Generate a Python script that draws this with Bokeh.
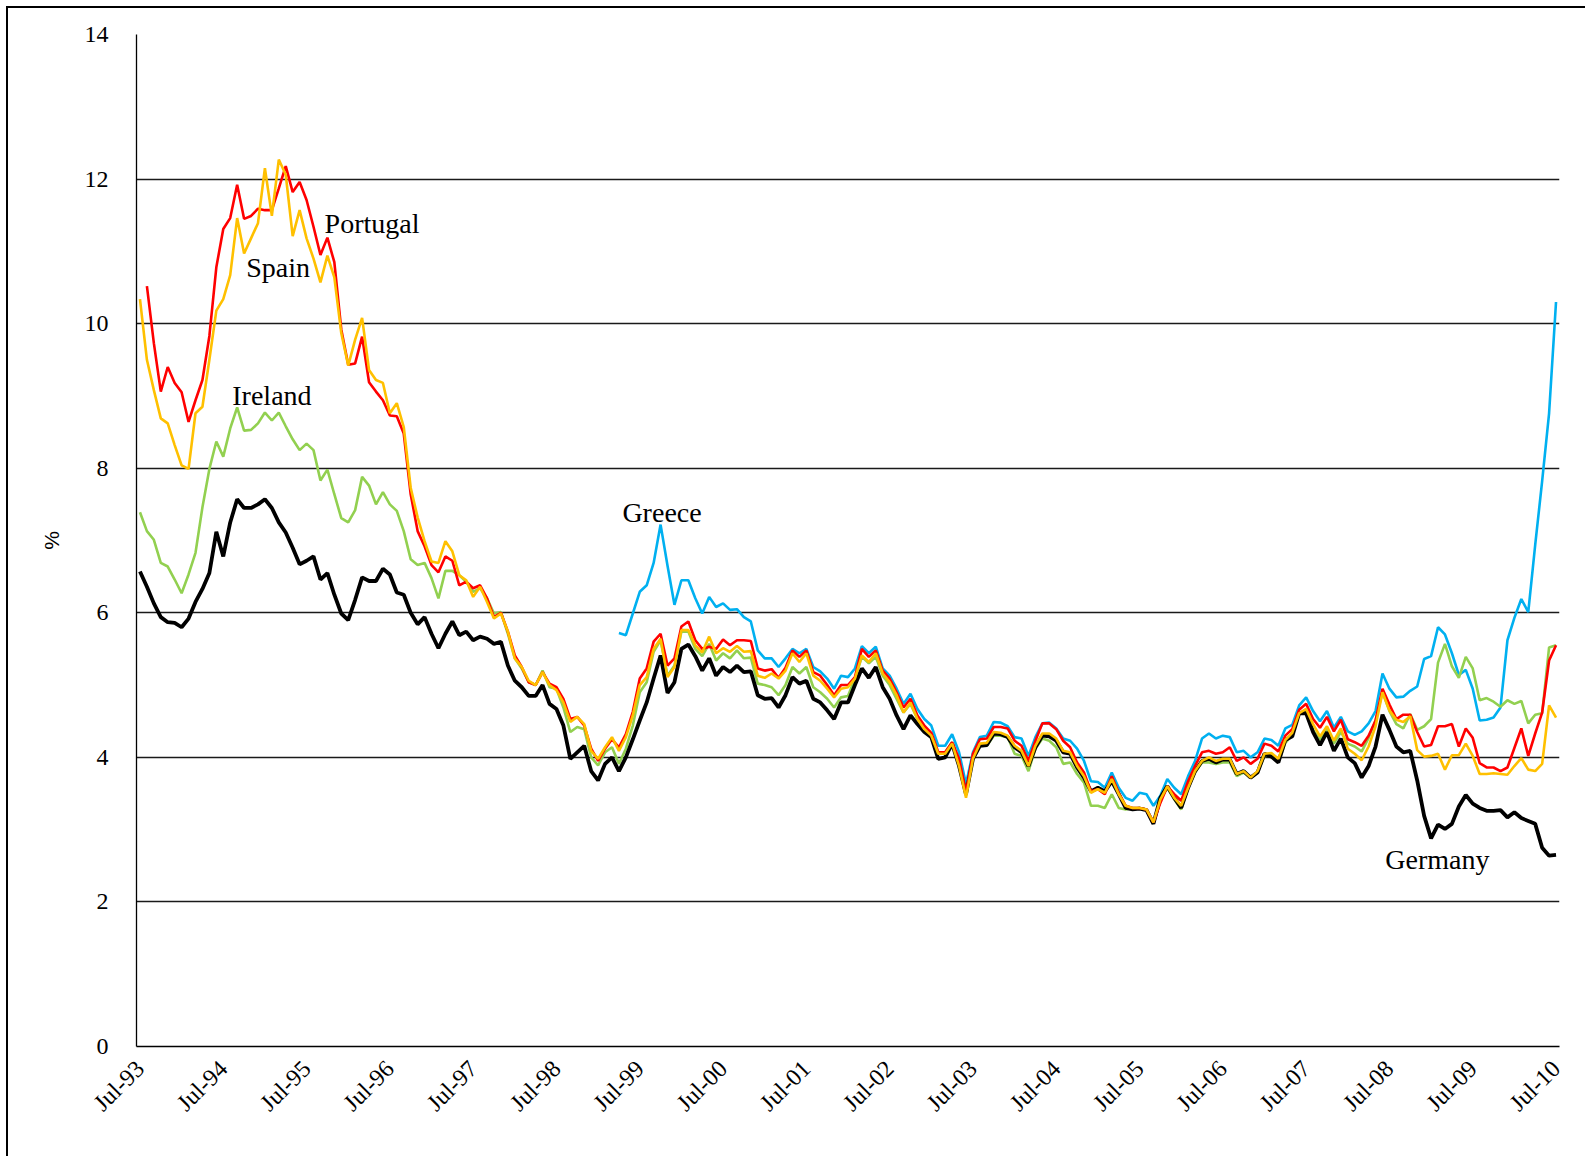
import math
import numpy as np
from bokeh.plotting import figure
from bokeh.models import Range1d, FixedTicker, ColumnDataSource
from bokeh.core.properties import value
from bokeh.embed import file_html
from bokeh.resources import INLINE

N = None
tick_labels = ["Jul-93", "Jul-94", "Jul-95", "Jul-96", "Jul-97", "Jul-98", "Jul-99", "Jul-00", "Jul-01",
               "Jul-02", "Jul-03", "Jul-04", "Jul-05", "Jul-06", "Jul-07", "Jul-08", "Jul-09", "Jul-10"]

germany = [6.57, 6.36, 6.13, 5.94, 5.87, 5.86, 5.80, 5.92, 6.15, 6.33, 6.55, 7.12, 6.78, 7.25, 7.57, 7.45, 7.45, 7.50, 7.57, 7.45,
           7.25, 7.11, 6.90, 6.67, 6.72, 6.78, 6.46, 6.55, 6.25, 5.99, 5.90, 6.18, 6.49, 6.44, 6.44, 6.61, 6.53, 6.28, 6.25, 6.00,
           5.84, 5.94, 5.71, 5.51, 5.71, 5.88, 5.69, 5.74, 5.62, 5.67, 5.64, 5.57, 5.60, 5.27, 5.06, 4.97, 4.85, 4.85, 5.00, 4.74,
           4.67, 4.44, 3.98, 4.07, 4.16, 3.81, 3.68, 3.91, 4.00, 3.81, 4.00, 4.25, 4.51, 4.76, 5.09, 5.41, 4.89, 5.04, 5.50, 5.56,
           5.40, 5.20, 5.37, 5.13, 5.25, 5.18, 5.27, 5.18, 5.19, 4.86, 4.81, 4.82, 4.69, 4.86, 5.11, 5.02, 5.06, 4.81, 4.76, 4.65,
           4.53, 4.76, 4.76, 5.00, 5.23, 5.10, 5.25, 4.97, 4.81, 4.58, 4.39, 4.58, 4.46, 4.35, 4.28, 3.98, 4.00, 4.19, 3.88, 3.49,
           3.98, 4.16, 4.17, 4.33, 4.32, 4.28, 4.14, 4.07, 3.88, 4.14, 4.30, 4.29, 4.23, 4.07, 4.05, 3.86, 3.72, 3.53, 3.58, 3.53,
           3.67, 3.49, 3.30, 3.28, 3.29, 3.27, 3.08, 3.44, 3.60, 3.44, 3.30, 3.58, 3.81, 3.95, 3.98, 3.93, 3.97, 3.97, 3.77, 3.81,
           3.72, 3.79, 4.05, 4.01, 3.93, 4.24, 4.29, 4.61, 4.61, 4.35, 4.17, 4.35, 4.09, 4.26, 4.00, 3.92, 3.72, 3.88, 4.15, 4.59,
           4.38, 4.15, 4.07, 4.09, 3.68, 3.19, 2.88, 3.07, 3.01, 3.08, 3.32, 3.48, 3.36, 3.30, 3.26, 3.26, 3.27, 3.17, 3.24, 3.16,
           3.12, 3.08, 2.75, 2.64, 2.65]

portugal = [N, 10.52, 9.73, 9.06, 9.40, 9.18, 9.05, 8.64, 8.94, 9.22, 9.83, 10.78, 11.31, 11.46, 11.92, 11.45, 11.49, 11.59, 11.57, 11.57,
            11.87, 12.18, 11.82, 11.96, 11.71, 11.34, 10.95, 11.19, 10.85, 9.92, 9.43, 9.45, 9.82, 9.19, 9.06, 8.94, 8.73, 8.72, 8.48, 7.64,
            7.13, 6.92, 6.66, 6.56, 6.78, 6.72, 6.38, 6.43, 6.34, 6.38, 6.20, 5.94, 6.00, 5.74, 5.41, 5.25, 5.04, 5.00, 5.18, 5.02,
            4.97, 4.81, 4.53, 4.56, 4.44, 4.12, 3.95, 4.12, 4.25, 4.14, 4.32, 4.63, 5.09, 5.23, 5.60, 5.71, 5.27, 5.37, 5.81, 5.88,
            5.62, 5.50, 5.53, 5.50, 5.63, 5.55, 5.62, 5.62, 5.61, 5.23, 5.20, 5.22, 5.10, 5.24, 5.48, 5.39, 5.48, 5.18, 5.13, 5.00,
            4.86, 5.00, 5.00, 5.11, 5.50, 5.39, 5.48, 5.20, 5.09, 4.90, 4.69, 4.81, 4.58, 4.44, 4.34, 4.07, 4.07, 4.21, 3.98, 3.52,
            4.05, 4.25, 4.26, 4.42, 4.42, 4.40, 4.23, 4.16, 3.95, 4.23, 4.47, 4.47, 4.39, 4.23, 4.14, 3.93, 3.79, 3.53, 3.56, 3.49,
            3.74, 3.51, 3.33, 3.30, 3.30, 3.28, 3.10, 3.37, 3.60, 3.49, 3.40, 3.67, 3.88, 4.07, 4.09, 4.05, 4.07, 4.14, 3.95, 4.00,
            3.91, 3.98, 4.19, 4.16, 4.08, 4.30, 4.39, 4.66, 4.74, 4.53, 4.41, 4.56, 4.36, 4.52, 4.25, 4.21, 4.16, 4.30, 4.51, 4.95,
            4.73, 4.53, 4.59, 4.59, 4.35, 4.15, 4.17, 4.43, 4.43, 4.46, 4.15, 4.40, 4.27, 3.92, 3.86, 3.86, 3.81, 3.86, 4.13, 4.40,
            4.02, 4.33, 4.62, 5.34, 5.55]

spain = [10.34, 9.50, 9.08, 8.69, 8.62, 8.32, 8.04, 7.99, 8.76, 8.85, 9.50, 10.18, 10.34, 10.67, 11.46, 10.97, 11.18, 11.39, 12.15, 11.49,
         12.27, 12.06, 11.21, 11.57, 11.18, 10.90, 10.57, 10.94, 10.64, 9.87, 9.42, 9.78, 10.08, 9.36, 9.22, 9.18, 8.76, 8.90, 8.57, 7.73,
         7.32, 6.99, 6.71, 6.69, 6.99, 6.85, 6.52, 6.45, 6.22, 6.36, 6.15, 5.92, 5.99, 5.74, 5.37, 5.25, 5.06, 5.00, 5.18, 5.00,
         4.93, 4.76, 4.49, 4.56, 4.46, 4.09, 3.98, 4.14, 4.28, 4.09, 4.28, 4.58, 5.00, 5.11, 5.50, 5.64, 5.11, 5.25, 5.76, 5.76,
         5.55, 5.45, 5.67, 5.44, 5.51, 5.46, 5.54, 5.46, 5.47, 5.13, 5.10, 5.16, 5.09, 5.20, 5.44, 5.32, 5.44, 5.13, 5.06, 4.95,
         4.83, 4.95, 4.97, 5.09, 5.41, 5.32, 5.44, 5.16, 5.04, 4.86, 4.62, 4.76, 4.53, 4.39, 4.30, 4.05, 4.05, 4.19, 3.88, 3.44,
         3.98, 4.19, 4.20, 4.35, 4.34, 4.30, 4.16, 4.09, 3.88, 4.16, 4.33, 4.33, 4.26, 4.09, 4.07, 3.88, 3.74, 3.51, 3.56, 3.51,
         3.70, 3.49, 3.33, 3.30, 3.30, 3.28, 3.10, 3.42, 3.60, 3.44, 3.33, 3.58, 3.81, 3.95, 4.00, 3.95, 3.98, 3.98, 3.77, 3.81,
         3.72, 3.81, 4.05, 4.06, 3.98, 4.24, 4.34, 4.61, 4.67, 4.46, 4.29, 4.43, 4.23, 4.40, 4.12, 4.05, 3.96, 4.15, 4.43, 4.90,
         4.65, 4.52, 4.49, 4.57, 4.10, 4.01, 4.02, 4.05, 3.83, 4.03, 4.03, 4.19, 4.02, 3.77, 3.77, 3.78, 3.77, 3.76, 3.88, 3.99,
         3.83, 3.81, 3.91, 4.72, 4.55]

ireland = [7.39, 7.13, 7.01, 6.69, 6.64, 6.46, 6.27, 6.53, 6.83, 7.46, 7.99, 8.37, 8.16, 8.55, 8.84, 8.52, 8.53, 8.62, 8.77, 8.66,
           8.77, 8.58, 8.40, 8.25, 8.34, 8.25, 7.83, 7.98, 7.64, 7.31, 7.25, 7.42, 7.88, 7.76, 7.50, 7.67, 7.50, 7.41, 7.13, 6.74,
           6.66, 6.69, 6.48, 6.20, 6.58, 6.58, 6.52, 6.43, 6.29, 6.34, 6.20, 5.99, 6.01, 5.71, 5.37, 5.23, 5.04, 5.00, 5.20, 4.97,
           4.95, 4.69, 4.35, 4.42, 4.39, 4.00, 3.89, 4.07, 4.14, 3.91, 4.12, 4.44, 4.90, 5.04, 5.46, 5.62, 5.13, 5.27, 5.74, 5.74,
           5.50, 5.40, 5.57, 5.34, 5.44, 5.37, 5.48, 5.37, 5.38, 5.02, 5.00, 4.97, 4.86, 5.00, 5.25, 5.16, 5.25, 4.97, 4.90, 4.81,
           4.69, 4.83, 4.85, 5.09, 5.39, 5.30, 5.39, 5.13, 5.00, 4.81, 4.62, 4.74, 4.53, 4.39, 4.30, 4.05, 4.07, 4.21, 3.91, 3.47,
           4.02, 4.16, 4.16, 4.30, 4.30, 4.28, 4.05, 4.02, 3.81, 4.12, 4.26, 4.23, 4.14, 3.91, 3.93, 3.77, 3.65, 3.33, 3.33, 3.30,
           3.49, 3.30, 3.28, 3.30, 3.30, 3.28, 3.09, 3.40, 3.58, 3.42, 3.28, 3.58, 3.79, 3.93, 3.93, 3.91, 3.93, 3.93, 3.74, 3.79,
           3.72, 3.79, 4.02, 4.03, 3.93, 4.20, 4.31, 4.61, 4.66, 4.38, 4.24, 4.40, 4.19, 4.35, 4.19, 4.15, 4.08, 4.27, 4.51, 4.90,
           4.64, 4.46, 4.40, 4.60, 4.38, 4.43, 4.53, 5.31, 5.57, 5.26, 5.10, 5.39, 5.23, 4.79, 4.82, 4.77, 4.70, 4.79, 4.74, 4.78,
           4.47, 4.59, 4.61, 5.52, 5.55]

greece = [N] * 69 + [
    5.72, 5.69, 5.99, 6.29, 6.38, 6.69, 7.22, 6.65, 6.11, 6.45, 6.45,
    6.20, 5.99, 6.22, 6.08, 6.13, 6.04, 6.05, 5.94, 5.88, 5.48, 5.37, 5.37, 5.25, 5.37, 5.50, 5.44, 5.50, 5.25, 5.19, 5.09,
    4.95, 5.13, 5.11, 5.23, 5.54, 5.44, 5.53, 5.23, 5.13, 4.95, 4.74, 4.88, 4.67, 4.53, 4.44, 4.16, 4.16, 4.32, 4.07, 3.63,
    4.07, 4.28, 4.30, 4.49, 4.48, 4.43, 4.28, 4.26, 4.02, 4.28, 4.47, 4.48, 4.40, 4.26, 4.23, 4.12, 3.95, 3.67, 3.66, 3.58,
    3.79, 3.58, 3.44, 3.40, 3.51, 3.49, 3.33, 3.47, 3.70, 3.58, 3.49, 3.74, 3.95, 4.26, 4.33, 4.26, 4.30, 4.28, 4.07, 4.09,
    4.00, 4.07, 4.26, 4.24, 4.16, 4.40, 4.45, 4.72, 4.83, 4.64, 4.50, 4.64, 4.41, 4.56, 4.36, 4.31, 4.36, 4.47, 4.64, 5.16,
    4.95, 4.83, 4.84, 4.92, 4.98, 5.36, 5.40, 5.80, 5.70, 5.44, 5.14, 5.21, 4.95, 4.51, 4.52, 4.55, 4.69, 5.62, 5.93, 6.19,
    6.01, 6.94, 7.82, 8.76, 10.30]

label_names = ["Portugal", "Spain", "Ireland", "Greece", "Germany"]
label_x = [26.6, 15.3, 13.3, 69.5, 179.4]
label_y = [11.38, 10.78, 9.01, 7.39, 2.59]

months = np.arange(len(germany))

def arr(v):
    return np.array(v, dtype=float)

p = figure(width=1579, height=1150, output_backend="svg", toolbar_location=None,
           x_range=Range1d(-0.5, 204.5), y_range=Range1d(0, 14),
           min_border_left=128, min_border_right=28, min_border_top=26, min_border_bottom=112,
           background_fill_color="white", border_fill_color="white")
p.margin = (8, 0, 0, 8)
p.outline_line_color = None
p.styles = {"box-shadow": "-2px -2px 0 0 #000000"}

serif = "Liberation Serif"

p.xaxis.ticker = FixedTicker(ticks=[12 * k for k in range(len(tick_labels))])
p.xaxis.major_label_overrides = {12 * k: t for k, t in enumerate(tick_labels)}
p.xaxis.major_label_orientation = math.pi / 4
p.xaxis.major_label_text_font = serif
p.xaxis.major_label_text_font_size = "24px"
p.xaxis.major_label_text_color = "black"
p.xaxis.major_label_standoff = 12
p.xaxis.major_tick_line_color = None
p.xaxis.minor_tick_line_color = None
p.xaxis.axis_line_color = "black"
p.xaxis.axis_line_width = 1.3

p.yaxis.ticker = FixedTicker(ticks=list(range(0, 15, 2)))
p.yaxis.major_label_text_font = serif
p.yaxis.major_label_text_font_size = "24px"
p.yaxis.major_label_text_color = "black"
p.yaxis.major_label_standoff = 22
p.yaxis.major_tick_line_color = None
p.yaxis.minor_tick_line_color = None
p.yaxis.axis_line_color = "black"
p.yaxis.axis_line_width = 1.3
p.yaxis.axis_label = "%"
p.yaxis.axis_label_text_font = "Liberation Sans"
p.yaxis.axis_label_text_font_style = "normal"
p.yaxis.axis_label_text_font_size = "21px"
p.yaxis.axis_label_text_color = "black"
p.yaxis.axis_label_standoff = 19

p.xgrid.grid_line_color = None
p.ygrid.ticker = FixedTicker(ticks=list(range(2, 15, 2)))
p.ygrid.grid_line_color = "#1a1a1a"
p.ygrid.grid_line_width = 1.3

series = [
    (greece, "#00B0F0", 2.6),
    (ireland, "#92D050", 2.6),
    (germany, "#000000", 3.8),
    (portugal, "#FF0000", 2.6),
    (spain, "#FFC000", 2.6),
]
for vals, col, w in series:
    p.line(months, arr(vals), line_color=col, line_width=w)

src = ColumnDataSource(dict(x=label_x, y=label_y, t=label_names))
p.text(x="x", y="y", text="t", source=src, text_font=value(serif), text_font_size="28px",
       text_color="black", text_baseline="alphabetic", text_align="left")

open("out.html", "w").write(file_html(p, INLINE))
